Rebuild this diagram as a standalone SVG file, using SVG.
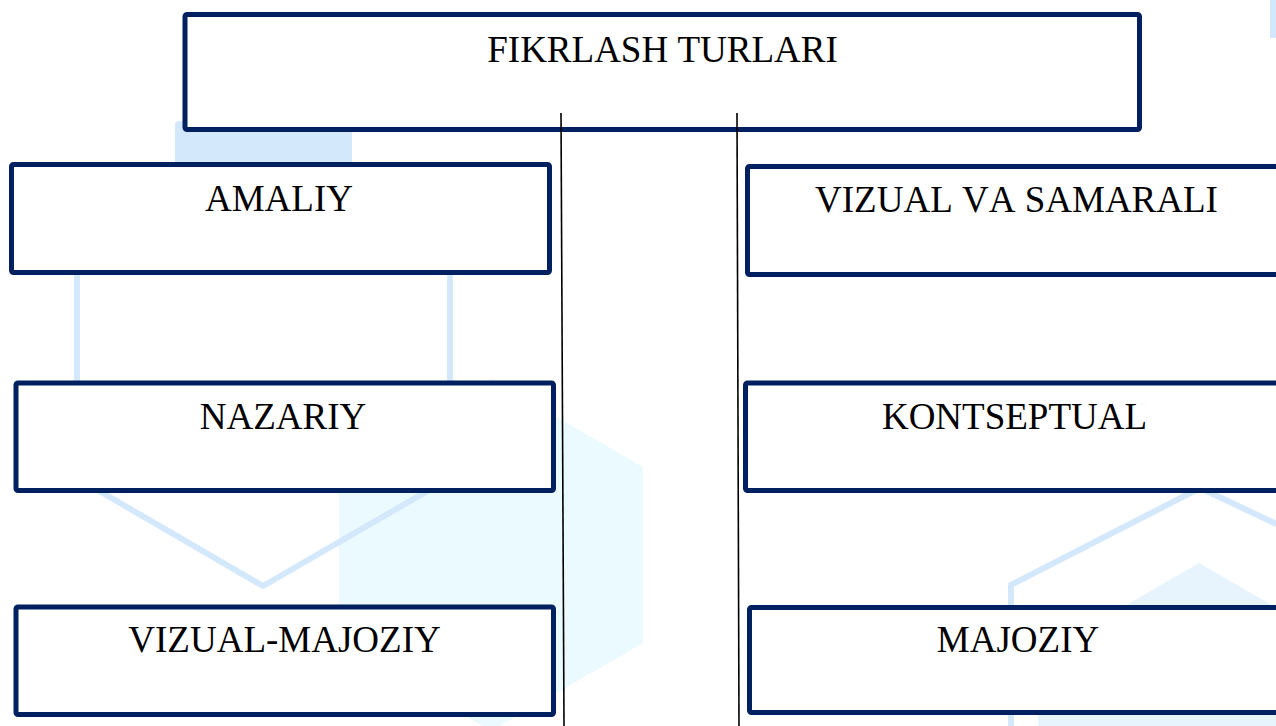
<svg xmlns="http://www.w3.org/2000/svg" width="1276" height="726" viewBox="0 0 1276 726">
  <style>
    .box { fill: #ffffff; stroke: #002060; stroke-width: 5; }
    .lbl { font-family: "Liberation Serif", "Times New Roman", serif; font-size: 37px; fill: #000000; text-anchor: middle; font-kerning: none; }
    .conn { stroke: #000000; stroke-width: 1.6; fill: none; }
    .hexline { fill: none; stroke: #d4e8fc; stroke-width: 6; stroke-linejoin: round; }
  </style>
  <rect x="0" y="0" width="1276" height="726" fill="#ffffff"/>
  <g id="background">
    <rect x="175" y="121" width="177" height="50" rx="4" fill="#d4e8fc"/>
    <rect x="1270" y="0" width="10" height="38" fill="#d4e8fc"/>
    <polygon points="491,379 643,467 643,643 491,731 339,643 339,467" fill="#ebfaff"/>
    <polygon points="1199,563 1360,656 1360,840 1199,933 1038,840 1038,656" fill="#e8f4fd"/>
    <polyline class="hexline" points="77,263 77,478 263,586 450,478 450,263 263,155 77,263"/>
    <polyline class="hexline" points="1011,740 1011,585 1200,488 1300,535"/>
  </g>
  <g id="node-top">
    <rect class="box" x="185" y="14.5" width="954.5" height="115" rx="2"/>
    <text class="lbl" x="662.5" y="62">FIKRLASH TURLARI</text>
  </g>
  <g id="node-amaliy">
    <rect class="box" x="11.5" y="164.5" width="538" height="108" rx="2"/>
    <text class="lbl" x="279" y="211">AMALIY</text>
  </g>
  <g id="node-vizual-samarali">
    <rect class="box" x="747.5" y="166.5" width="538" height="108" rx="2"/>
    <text class="lbl" x="1016.5" y="212">VIZUAL VA SAMARALI</text>
  </g>
  <g id="node-nazariy">
    <rect class="box" x="16" y="383" width="537.5" height="107.5" rx="2"/>
    <text class="lbl" x="283" y="429">NAZARIY</text>
  </g>
  <g id="node-kontseptual">
    <rect class="box" x="745.5" y="383" width="538" height="107.5" rx="2"/>
    <text class="lbl" x="1014.5" y="429">KONTSEPTUAL</text>
  </g>
  <g id="node-vizual-majoziy">
    <rect class="box" x="16" y="607" width="537.5" height="107.5" rx="2"/>
    <text class="lbl" x="284.5" y="652">VIZUAL-MAJOZIY</text>
  </g>
  <g id="node-majoziy">
    <rect class="box" x="749.5" y="607.5" width="538" height="105" rx="2"/>
    <text class="lbl" x="1018" y="652">MAJOZIY</text>
  </g>
  <g id="connectors">
    <line class="conn" x1="561" y1="113" x2="564" y2="726"/>
    <line class="conn" x1="737" y1="113" x2="739" y2="726"/>
  </g>
</svg>
